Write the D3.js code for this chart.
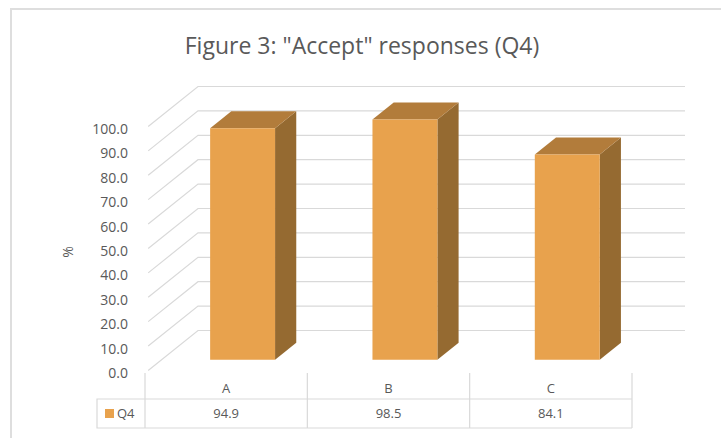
<!DOCTYPE html>
<html>
<head>
<meta charset="utf-8">
<script src="https://cdn.jsdelivr.net/npm/d3@7"></script>
<style>
  body { margin: 0; background: #fff; }
  svg { display: block; font-family: "Open Sans", "Noto Sans", sans-serif; }
</style>
</head>
<body>
<div id="chart"></div>
<script>
// chart data
var categories = ["A", "B", "C"];
var q4Values = [94.9, 98.5, 84.1];
var yTicks = [0, 10, 20, 30, 40, 50, 60, 70, 80, 90, 100];
var seriesName = "Q4";
var chartTitle = 'Figure 3: "Accept" responses (Q4)';

var width = 721, height = 438;
var textColor = "#595959", gridColor = "#d9d9d9";

// front plane scales
var x = d3.scaleBand().domain(categories).range([145, 632]);
var y = d3.scaleLinear().domain([0, 100]).range([373, 129]);

// depth offset for the fake 3d look
var depthX = 53, depthY = -42.5;
function proj(px, py, t) {
    return [px + depthX * t, py + depthY * t];
}

var svg = d3.select("#chart").append("svg")
    .attr("width", width)
    .attr("height", height);

// outer chart border
svg.append("path")
    .attr("d", "M11," + height + "V9H" + width)
    .attr("fill", "none")
    .attr("stroke", "#dedede")
    .attr("stroke-width", 2);

// title
svg.append("text")
    .attr("x", 362)
    .attr("y", 54)
    .attr("text-anchor", "middle")
    .attr("fill", textColor)
    .style("font-size", "23px")
    .text(chartTitle);

// gridlines: side wall diagonal + back wall horizontal
var x0 = x.range()[0], x1 = x.range()[1];
svg.append("g").selectAll("path")
    .data(yTicks)
    .enter().append("path")
    .attr("fill", "none")
    .attr("stroke", gridColor)
    .attr("stroke-width", 1.2)
    .attr("d", function(d) {
        var a = proj(x0, y(d), 0.06), b = proj(x0, y(d), 1), c = proj(x1, y(d), 1);
        return "M" + a + "L" + b + "L" + c;
    });

// y axis labels
var yAxis = svg.append("g")
    .attr("transform", "translate(" + x0 + ",0)")
    .call(d3.axisLeft(y).tickValues(yTicks).tickSize(0).tickPadding(17).tickFormat(d3.format(".1f")));
yAxis.select(".domain").remove();
yAxis.selectAll("text")
    .attr("fill", textColor)
    .style("font-size", "14px")
    .style("font-family", "'Open Sans', sans-serif");

// axis title
svg.append("text")
    .attr("transform", "translate(73,252) rotate(-90)")
    .attr("text-anchor", "middle")
    .attr("fill", textColor)
    .style("font-size", "14px")
    .text("%");

// bars
var t1 = 0.31, t2 = 0.71;
var barW = x.bandwidth() * 0.4;
var bars = svg.append("g").selectAll("g")
    .data(categories.map(function(c, i) { return {cat: c, value: q4Values[i]}; }))
    .enter().append("g");

function pts(list) {
    return list.map(function(p) { return p.join(","); }).join(" ");
}

bars.each(function(d) {
    var g = d3.select(this);
    var left = x(d.cat) + (x.bandwidth() - barW) / 2, right = left + barW;
    var top = y(d.value), bottom = y(0);
    var fl = proj(left, top, t1), fr = proj(right, top, t1);
    var frb = proj(right, bottom, t1), flb = proj(left, bottom, t1);
    var bl = proj(left, top, t2), br = proj(right, top, t2), brb = proj(right, bottom, t2);
    // side face
    g.append("polygon")
        .attr("points", pts([fr, br, brb, frb]))
        .attr("fill", "#956a31");
    // top face
    g.append("polygon")
        .attr("points", pts([fl, bl, br, fr]))
        .attr("fill", "#b27c3b");
    // front face
    g.append("polygon")
        .attr("points", pts([fl, fr, frb, flb]))
        .attr("fill", "#e8a24d");
});

// data table
var rowLine = 399, tableBottom = 428, legendLeft = 97;
var table = svg.append("g")
    .attr("stroke", gridColor)
    .attr("stroke-width", 1.2)
    .attr("fill", "none");
var colEdges = categories.map(function(c) { return x(c); }).concat([x1]);
table.selectAll("line.v")
    .data(colEdges)
    .enter().append("line")
    .attr("x1", function(d) { return d; })
    .attr("x2", function(d) { return d; })
    .attr("y1", y(0))
    .attr("y2", tableBottom);
table.append("path")
    .attr("d", "M" + x1 + "," + rowLine + "H" + legendLeft + "V" + tableBottom + "H" + x1);

svg.append("g").selectAll("text")
    .data(categories)
    .enter().append("text")
    .attr("x", function(d) { return x(d) + x.bandwidth() / 2; })
    .attr("y", 393)
    .attr("text-anchor", "middle")
    .attr("fill", textColor)
    .style("font-size", "13px")
    .text(function(d) { return d; });

svg.append("g").selectAll("text")
    .data(q4Values)
    .enter().append("text")
    .attr("x", function(d, i) { return x(categories[i]) + x.bandwidth() / 2; })
    .attr("y", 418)
    .attr("text-anchor", "middle")
    .attr("fill", textColor)
    .style("font-size", "13px")
    .text(function(d) { return d3.format(".1f")(d); });

// legend key
svg.append("rect")
    .attr("x", 105).attr("y", 409)
    .attr("width", 9).attr("height", 9)
    .attr("fill", "#e8a24d");
svg.append("text")
    .attr("x", 117)
    .attr("y", 418)
    .attr("fill", textColor)
    .style("font-size", "13px")
    .text(seriesName);
</script>
</body>
</html>
